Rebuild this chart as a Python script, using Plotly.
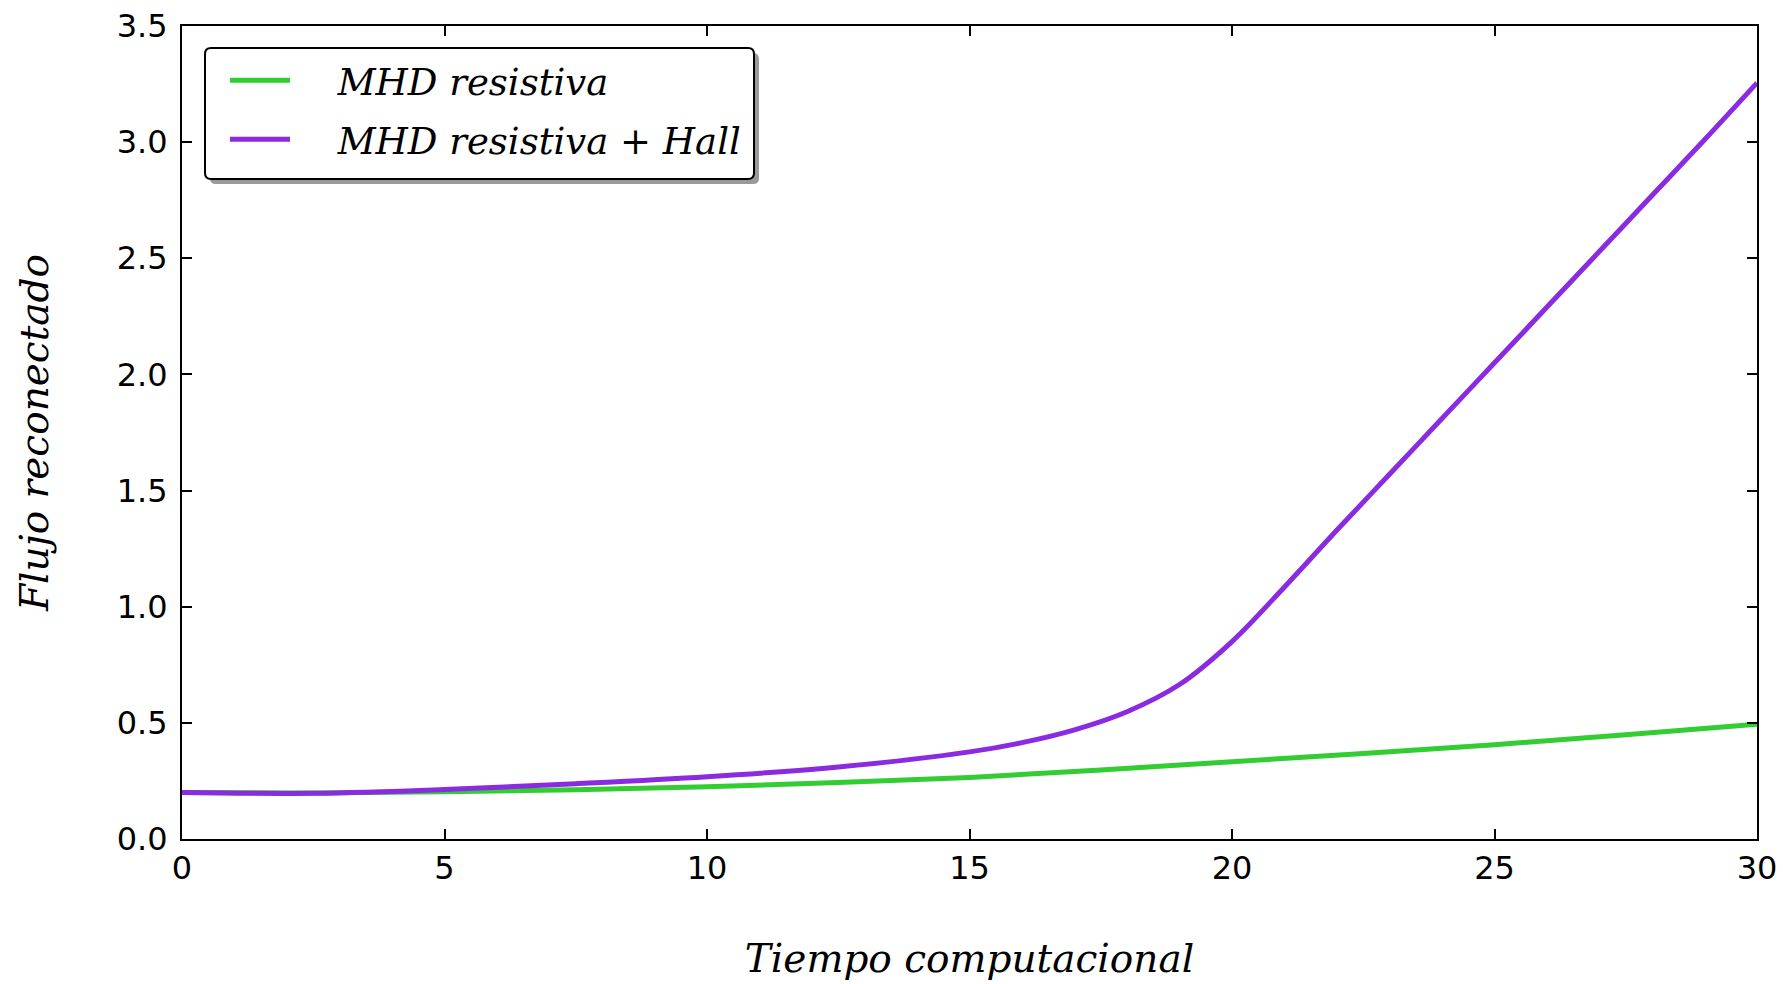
import plotly.graph_objects as go

# ---- data ----
t_hall = [0, 2.5, 5, 7.5, 10, 12.5, 15, 16, 17, 18, 19, 20, 21, 22, 23, 24, 25, 26, 27, 28, 29, 30]
flux_hall = [0.200, 0.197, 0.213, 0.238, 0.268, 0.310, 0.375, 0.415, 0.470, 0.548, 0.665, 0.850,
             1.085, 1.330, 1.570, 1.810, 2.050, 2.290, 2.530, 2.770, 3.010, 3.255]

t_res = [0, 2.5, 5, 7.5, 10, 12.5, 15, 17.5, 20, 22.5, 25, 27.5, 30]
flux_res = [0.200, 0.198, 0.203, 0.212, 0.225, 0.243, 0.265, 0.297, 0.333, 0.368, 0.406, 0.449, 0.494]

x_ticks = [0, 5, 10, 15, 20, 25, 30]
y_ticks = [0.0, 0.5, 1.0, 1.5, 2.0, 2.5, 3.0, 3.5]

name_res = "MHD resistiva"
name_hall = "MHD resistiva + Hall"
x_title = "Tiempo computacional"
y_title = "Flujo reconectado"

GREEN = "#32CD32"
PURPLE = "#8A2BE2"
SERIF = "DejaVu Serif"
PAD = "\u00a0" * 3 + "\u2009"  # gap between legend sample line and label

ML, MR, MT, MB = 182, 26, 26, 145
FW, FH = 1783, 984

fig = go.Figure()
fig.add_trace(go.Scatter(x=t_res, y=flux_res, mode="lines", name=PAD + name_res,
                         legendgroup="a",
                         line=dict(color=GREEN, width=5, shape="spline", smoothing=1.0)))
fig.add_trace(go.Scatter(x=t_hall, y=flux_hall, mode="lines", name=PAD + name_hall,
                         legendgroup="b",
                         line=dict(color=PURPLE, width=5, shape="spline", smoothing=1.0)))

axis_common = dict(
    automargin=False,
    showgrid=False, zeroline=False, showline=True, linecolor="black", linewidth=2,
    mirror="ticks", ticks="inside", ticklen=10, tickwidth=1.5, tickcolor="black",
    tickfont=dict(family="DejaVu Sans", size=32, color="black"),
)

fig.update_layout(
    width=FW, height=FH,
    margin=dict(l=ML, r=MR, t=MT, b=MB),
    paper_bgcolor="white", plot_bgcolor="white",
    xaxis=dict(range=[0, 30], tickvals=x_ticks, ticktext=[str(v) for v in x_ticks],
               ticklabelstandoff=0,
               title=dict(text=x_title, standoff=58,
                          font=dict(family=SERIF, size=39, style="italic", color="black")),
               **axis_common),
    yaxis=dict(range=[0, 3.5], tickvals=y_ticks, ticktext=[f"{v:.1f}" for v in y_ticks],
               ticklabelstandoff=6,
               title=dict(text=y_title, standoff=56,
                          font=dict(family=SERIF, size=39, style="italic", color="black")),
               **axis_common),
    showlegend=True,
    legend=dict(x=0.0273, y=0.971, xanchor="left", yanchor="top",
                bgcolor="rgba(0,0,0,0)", borderwidth=0,
                font=dict(family=SERIF, size=37, style="italic", color="black"),
                tracegroupgap=8, itemwidth=60),
)

# legend frame (rounded) with shadow, in pixel-based paper coords
W, H = FW - ML - MR, FH - MT - MB
def px2paper(x, y):
    return (x - ML) / W, (FH - MB - y) / H

def rounded_rect(x0, y0, x1, y1, r):
    ax0, ay0 = px2paper(x0, y0)
    ax1, ay1 = px2paper(x1, y1)
    rx, ry = r / W, r / H
    return (f"M {ax0+rx},{ay0} L {ax1-rx},{ay0} Q {ax1},{ay0} {ax1},{ay0-ry} "
            f"L {ax1},{ay1+ry} Q {ax1},{ay1} {ax1-rx},{ay1} L {ax0+rx},{ay1} "
            f"Q {ax0},{ay1} {ax0},{ay1+ry} L {ax0},{ay0-ry} Q {ax0},{ay0} {ax0+rx},{ay0} Z")

fig.add_shape(type="path", xref="paper", yref="paper", layer="below",
              path=rounded_rect(210, 53, 759, 184, 6),
              fillcolor="#9a9a9a", line=dict(width=0))
fig.add_shape(type="path", xref="paper", yref="paper", layer="below",
              path=rounded_rect(205, 48, 754, 179, 6),
              fillcolor="white", line=dict(color="black", width=2))

fig.write_html("out.html", config={"displayModeBar": False},
               post_script="document.body.style.margin='0';document.body.style.overflow='hidden';")
